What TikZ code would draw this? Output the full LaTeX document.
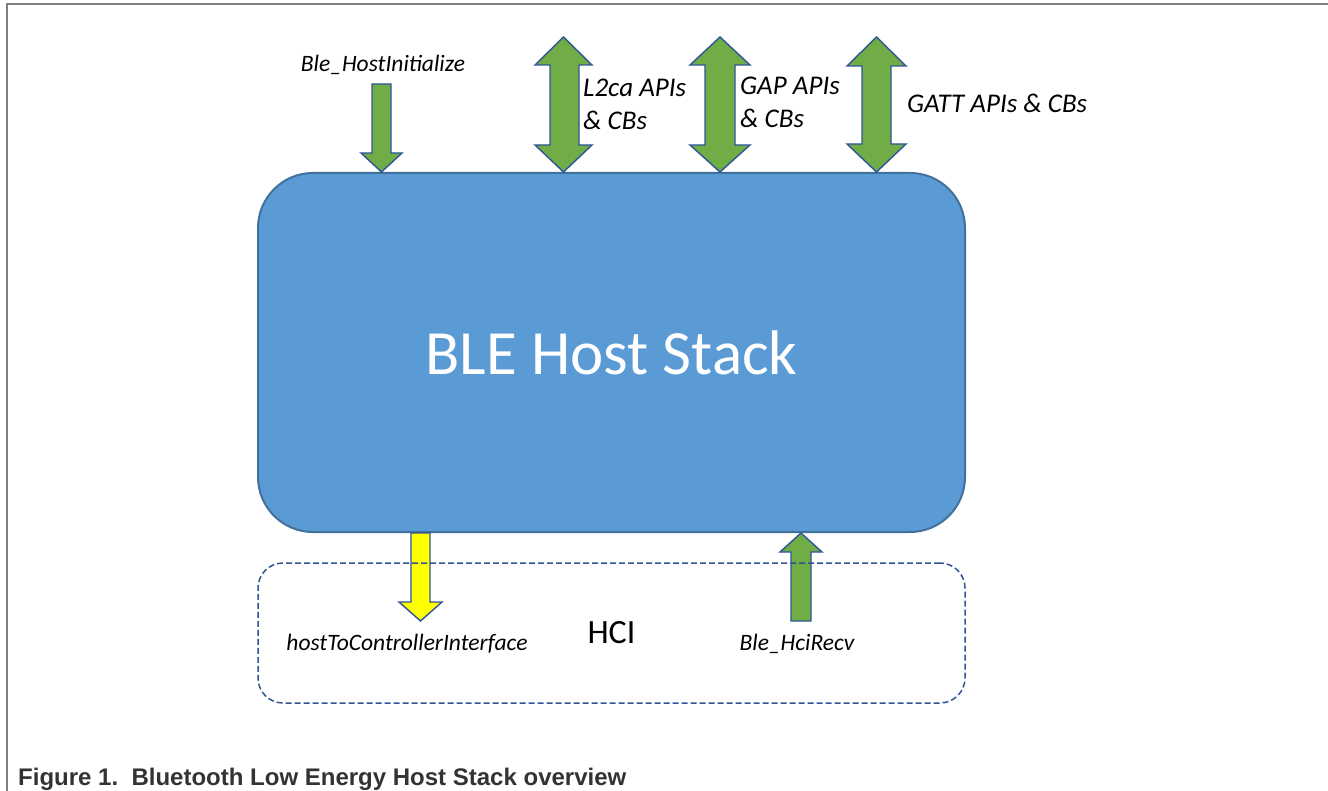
\documentclass[tikz,border=0pt]{standalone}
\usepackage{fontspec}
\setmainfont{Carlito}
\newfontfamily\capfont{Liberation Sans}
\definecolor{hostfill}{HTML}{5B9BD5}
\definecolor{hostline}{HTML}{41719C}
\definecolor{arrline}{HTML}{2F5597}
\definecolor{arrgreen}{HTML}{70AD47}
\definecolor{arryellow}{HTML}{FFFF00}
\definecolor{framegray}{HTML}{7F7F7F}
\definecolor{captext}{HTML}{333333}
\begin{document}
\begin{tikzpicture}[x=1pt,y=-1pt,
  hostbox/.style={draw=hostline, fill=hostfill, line width=2pt, rounded corners=55pt,
    minimum width=707pt, minimum height=359pt, inner sep=0pt, text=white,
    font=\fontsize{63}{70}\selectfont},
  hcibox/.style={draw=arrline, line width=1.5pt, dash pattern=on 6pt off 3pt, rounded corners=25pt,
    minimum width=707pt, minimum height=140pt, inner sep=0pt,
    font=\fontsize{34}{40}\selectfont},
  blockarrow/.style={draw=arrline, line width=1.4pt, line join=miter},
  lbl/.style={font=\fontsize{23.5}{28}\selectfont\itshape, inner sep=0pt, anchor=base},
  apilbl/.style={font=\fontsize{27}{33}\selectfont\itshape, inner sep=0pt, align=left, anchor=base west},
  caption/.style={font=\capfont\bfseries\fontsize{24}{28}\selectfont, text=captext, inner sep=0pt, anchor=base west}
]
\useasboundingbox (0,0) rectangle (1328,791);
% frame
\draw[framegray, line width=1.5pt] (7,791) -- (7,4) -- (1328,4);

% main box
\node[hostbox] (host) at (611.5,352.5) {BLE Host Stack};

% top arrows
\draw[blockarrow, fill=arrgreen] (372,84) -- (391,84) -- (391,153) -- (402,153) -- (381.5,172) -- (361,153) -- (372,153) -- cycle;
\draw[blockarrow, fill=arrgreen] (563.5,37) -- (592,65) -- (579,65) -- (579,145) -- (592,145) -- (563.5,172) -- (535,145) -- (550,145) -- (550,65) -- (535,65) -- cycle;
\draw[blockarrow, fill=arrgreen] (720,37) -- (750,65) -- (735,65) -- (735,145) -- (750,145) -- (720,172) -- (690,145) -- (705,145) -- (705,65) -- (690,65) -- cycle;
\draw[blockarrow, fill=arrgreen] (876.5,37) -- (906,66) -- (891,66) -- (891,144) -- (906,144) -- (876.5,172) -- (847,144) -- (862,144) -- (862,66) -- (847,66) -- cycle;

% bottom arrows
\draw[blockarrow, fill=arryellow] (411,533) -- (430,533) -- (430,602) -- (442,602) -- (420.5,621) -- (399,602) -- (411,602) -- cycle;
\draw[blockarrow, fill=arrgreen] (801,533) -- (822,552) -- (811,552) -- (811,621) -- (791,621) -- (791,552) -- (780,552) -- cycle;

% HCI box
\node[hcibox] (hci) at (611.5,633) {HCI};

% labels
\node[lbl] (init) at (383,72) {Ble\_HostInitialize};
\node[apilbl] (l2ca) at (583,130) {L2ca APIs\\\& CBs};
\node[apilbl] (gap) at (740,128) {GAP APIs\\\& CBs};
\node[apilbl] (gatt) at (907,113) {GATT APIs \& CBs};
\node[lbl] (h2c) at (407,650) {hostToControllerInterface};
\node[lbl] (recv) at (797,650) {Ble\_HciRecv};

% caption
\node[caption] (cap) at (18,785.5) {Figure 1.\ \ Bluetooth Low Energy Host Stack overview};
\end{tikzpicture}
\end{document}
